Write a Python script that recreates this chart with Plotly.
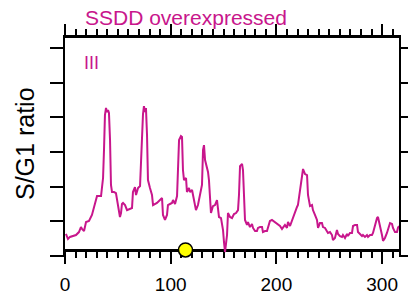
import plotly.graph_objects as go

# chromosome III position (kb)
position_kb = [0.9,2.8,4.7,7.6,10.4,13.2,15.1,16.1,18,19.9,22.7,25.5,29.3,30.3,34.1,35,36,36.9,37.8,38.8,
    39.7,40.7,41.6,42.6,43.5,44.5,46.4,48.2,50.1,52,53,53.9,54.9,56.8,58.7,61.5,63.4,64.3,66.2,67.2,
    69.1,71,71.9,72.8,73.8,74.7,75.7,76.6,77.6,78.5,79.5,80.4,82.3,83.3,87,89.9,91.8,92.7,94.6,96.5,
    97.4,99.3,101.2,102.2,104.1,106.0,106.9,107.9,109.7,110.7,111.6,112.6,114.5,115.4,117.3,118.3,120.2,122.0,123.9,125.8,
    126.8,128.7,129.6,130.6,131.5,132.5,134.3,135.3,136.2,138.1,140.0,141.9,143.8,145.7,147.6,149.5,150.4,151.4,153.3,154.2,
    156.1,158.0,159.9,161.8,163.7,164.6,165.6,167.5,168.4,169.3,170.3,172.2,173.1,175.0,176.9,177.9,179.8,181.6,182.6,184.5,
    186.4,187.3,189.2,191.1,192.1,193.9,195.8,198.7,201.5,203.4,205.3,206.2,208.1,210.0,211.0,212.9,214.8,216.7,219.5,220.4,
    222.3,224.2,225.2,227.1,229.0,229.9,231.8,233.7,234.6,236.5,238.4,239.4,241.2,243.1,244.1,246.0,247.9,248.8,250.7,252.6,
    253.5,255.4,257.3,258.3,260.2,262.1,263.0,264.9,266.8,267.7,269.6,271.5,272.5,274.4,276.3,277.2,279.1,281.0,281.9,283.8,
    285.7,286.7,288.6,290.4,291.4,293.3,295.2,296.1,298.0,299.9,300.9,302.7,304.6,305.6,307.5,309.4,310.3,312.2,314.1,315.0,
    316.0]

# S/G1 ratio
sg1_ratio = [1.127,1.098,1.110,1.115,1.121,1.138,1.167,1.156,1.144,1.196,1.202,1.237,1.323,1.346,1.346,1.387,1.450,1.612,1.813,1.854,
    1.831,1.842,1.825,1.669,1.410,1.369,1.369,1.363,1.294,1.225,1.248,1.300,1.306,1.294,1.265,1.271,1.277,1.369,1.398,1.352,
    1.392,1.404,1.554,1.756,1.819,1.865,1.831,1.854,1.698,1.438,1.404,1.392,1.352,
    1.294,1.306,1.323,1.335,1.237,1.208,1.237,1.294,1.3,1.306,
    1.323,1.3,1.346,1.496,1.669,1.692,1.687,1.496,1.438,1.45,
    1.369,1.392,1.369,1.381,1.323,1.265,1.294,1.323,1.381,1.41,
    1.612,1.64,1.554,1.513,1.485,1.438,1.248,1.288,1.294,1.323,
    1.225,1.219,1.15,1.081,1.023,1.121,1.248,1.225,1.219,1.242,
    1.248,1.265,1.352,1.519,1.531,1.496,1.323,1.208,1.179,1.196,
    1.167,1.185,1.162,1.144,1.144,1.162,1.167,1.167,1.138,1.144,
    1.144,1.162,1.202,1.208,1.196,1.185,1.173,1.156,1.162,1.179,
    1.162,1.196,1.173,1.208,1.237,1.283,1.294,1.381,1.462,1.502,
    1.473,1.467,1.352,1.288,1.294,1.265,1.237,1.208,1.162,1.19,
    1.19,1.167,1.162,1.138,1.133,1.138,1.121,1.092,1.104,1.15,
    1.127,1.115,1.11,1.121,1.104,1.127,1.115,1.133,1.133,1.173,
    1.179,1.179,1.138,1.127,1.115,1.121,1.11,1.121,1.11,1.121,
    1.121,1.133,1.179,1.219,1.225,1.179,1.121,1.087,1.104,1.133,
    1.156,1.19,1.185,1.162,1.138,1.138,1.162,1.173]

centromere_kb = [114]
baseline_ratio = [1.035]
x_major_ticks = [0, 100, 200, 300]
y_ticks = [1.0, 1.2, 1.4, 1.6, 1.8, 2.0, 2.2]
title_text = "SSDD overexpressed"
chrom_label = "III"
y_title = "S/G1 ratio"

MAG = "#C8168C"
FONT = "Liberation Sans, Arial, Helvetica, sans-serif"
xr = [0, 316]
yr = [0.9942, 2.258]

fig = go.Figure()
fig.add_trace(go.Scatter(x=position_kb, y=sg1_ratio, mode="lines",
                         line=dict(color=MAG, width=2), showlegend=False, hoverinfo="skip"))
fig.add_trace(go.Scatter(x=centromere_kb, y=baseline_ratio, mode="markers", cliponaxis=False,
                         marker=dict(color="#FFFF00", size=14, line=dict(color="black", width=1.5)),
                         showlegend=False, hoverinfo="skip"))
fig.add_trace(go.Scatter(x=[xr[0]], y=[yr[1] + 1], xaxis="x2", mode="markers",
                         marker=dict(opacity=0), showlegend=False, hoverinfo="skip"))

axis_pos = (baseline_ratio[0] - yr[0]) / (yr[1] - yr[0])

fig.update_layout(
    width=408, height=297,
    margin=dict(l=65, r=9, t=38, b=40, autoexpand=False),
    paper_bgcolor="white", plot_bgcolor="white",
    font=dict(family=FONT, color="black"),
    xaxis=dict(range=xr, anchor="free", position=axis_pos, showgrid=False, zeroline=False,
               automargin=False,
               showline=True, linecolor="black", linewidth=3, layer="below traces",
               tickmode="array", tickvals=x_major_ticks, ticks="outside", ticklen=12,
               tickwidth=2, tickcolor="black", tickfont=dict(size=19, family=FONT),
               ticklabelstandoff=4,
               minor=dict(dtick=10, tick0=0, ticks="outside", ticklen=6, tickwidth=1.5,
                          tickcolor="black", showgrid=False)),
    xaxis2=dict(range=xr, overlaying="x", side="top", anchor="y", showgrid=False, zeroline=False,
                automargin=False,
                showline=True, linecolor="black", linewidth=3,
                tickmode="array", tickvals=x_major_ticks, ticks="outside", ticklen=11,
                tickwidth=2, tickcolor="black", showticklabels=False,
                minor=dict(dtick=10, tick0=0, ticks="outside", ticklen=6, tickwidth=1.5,
                           tickcolor="black", showgrid=False)),
    yaxis=dict(range=yr, showgrid=False, zeroline=False, showline=True, linecolor="black",
               automargin=False,
               linewidth=2, mirror="ticks", tickmode="array", tickvals=y_ticks,
               ticks="outside", ticklen=13, tickwidth=2, tickcolor="black",
               showticklabels=False),
    annotations=[
        dict(text=title_text, xref="paper", yref="paper", x=(83 - 65) / 334, y=(257 - 17) / 219,
             xanchor="left", yanchor="middle", showarrow=False,
             font=dict(size=21, color=MAG, family=FONT)),
        dict(text=chrom_label, xref="paper", yref="paper", x=(82 - 65) / 334, y=(257 - 63) / 219,
             xanchor="left", yanchor="middle", showarrow=False,
             font=dict(size=18, color=MAG, family=FONT)),
        dict(text=y_title, xref="paper", yref="paper", x=(25 - 65) / 334, y=(257 - 144) / 219,
             xanchor="center", yanchor="middle", textangle=-90, showarrow=False,
             font=dict(size=25, color="black", family=FONT)),
    ],
)

fig.write_html("out.html", config={"displayModeBar": False},
               post_script="document.body.style.margin='0';document.body.style.padding='0';")
